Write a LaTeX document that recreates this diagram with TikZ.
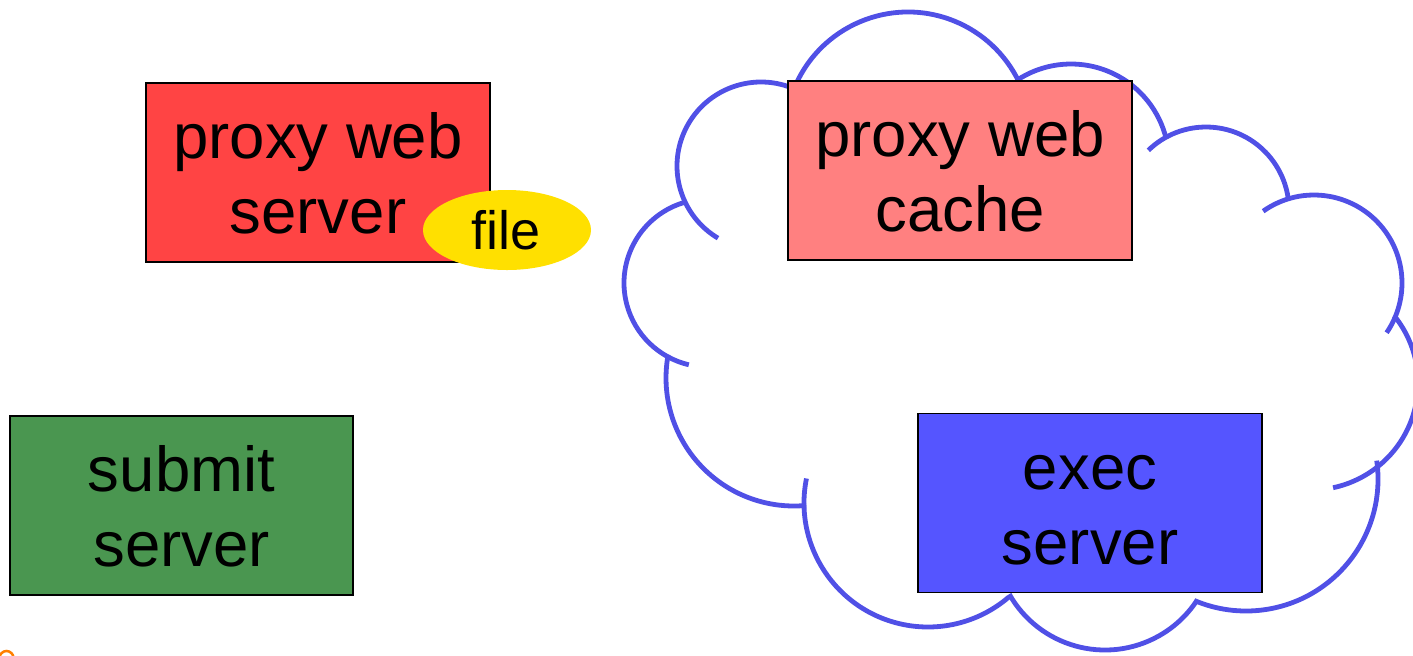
\documentclass[tikz,border=0pt]{standalone}
\usepackage{fontspec}
\setmainfont{Liberation Sans}
\usetikzlibrary{shapes.geometric}
\definecolor{cloudblue}{RGB}{80,80,230}
\definecolor{redfill}{RGB}{255,68,68}
\definecolor{pinkfill}{RGB}{255,128,128}
\definecolor{greenfill}{RGB}{74,150,80}
\definecolor{bluefill}{RGB}{85,85,255}
\definecolor{filefill}{RGB}{255,224,0}
\definecolor{markorange}{RGB}{255,128,0}
\tikzset{
  cloudline/.style={draw=cloudblue, line width=2.4pt, line cap=butt},
  srvbox/.style={draw=black, line width=0.65pt, inner sep=0pt, outer sep=0pt,
                 minimum width=172pt, minimum height=89.5pt},
  lbl/.style={font=\fontsize{31.75pt}{38pt}\selectfont, inner sep=0pt, anchor=base},
  filetag/.style={ellipse, fill=filefill, inner sep=0pt,
                  minimum width=84pt, minimum height=40pt},
}
\begin{document}
\begin{tikzpicture}[x=0.5pt,y=-0.5pt]
\useasboundingbox (0,0) rectangle (1413,655);
\clip (0,0) rectangle (1413,655);

% cloud: one arc per bump, some carrying a short inner tail
\draw[cloudline] (761,166)  ++(-65:84)    arc[start angle=-65,    end angle=-239.2, radius=84];
\draw[cloudline] (708,283)  ++(-105:84)   arc[start angle=-105,   end angle=-256.8, radius=84];
\draw[cloudline] (794,378)  ++(190.5:128) arc[start angle=190.5,  end angle=84.5,   radius=128];
\draw[cloudline] (928,503)  ++(191.4:124) arc[start angle=191.4,  end angle=49.4,   radius=124];
\draw[cloudline] (1105,540) ++(150.5:110) arc[start angle=150.5,  end angle=33,     radius=110];
\draw[cloudline] (1246,479) ++(-8:132)    arc[start angle=-8,     end angle=113,    radius=132];
\draw[cloudline] (1311,383) ++(-39:107)   arc[start angle=-39,    end angle=78.1,   radius=107];
\draw[cloudline] (1314,283) ++(-125.3:88) arc[start angle=-125.3, end angle=34.4,   radius=88];
\draw[cloudline] (1206,210) ++(-134:83)   arc[start angle=-134,   end angle=-6.7,   radius=83];
\draw[cloudline] (1071,162) ++(-123.9:98) arc[start angle=-123.9, end angle=-13.5,  radius=98];
\draw[cloudline] (908,135)  ++(-158:123)  arc[start angle=-158,   end angle=-25.6,  radius=123];

% servers
\node[srvbox, fill=redfill]   (proxysrv) at (318,172.5) {};
\node[srvbox, fill=pinkfill]  (proxycache) at (960,170.5) {};
\node[srvbox, fill=bluefill]  (execsrv) at (1090,503) {};
\node[srvbox, fill=greenfill, minimum width=171.5pt] (submitsrv) at (181.5,505.5) {};

\node[lbl] (proxysrvA) at (318,158.6) {proxy web};
\node[lbl] (proxysrvB) at (318,233.8) {server};
\node[lbl] (proxycacheA) at (960,156.6) {proxy web};
\node[lbl] (proxycacheB) at (960,231.8) {cache};
\node[lbl] (execsrvA) at (1090,489) {exec};
\node[lbl] (execsrvB) at (1090,564) {server};
\node[lbl] (submitsrvA) at (181.5,491) {submit};
\node[lbl] (submitsrvB) at (181.5,566) {server};

% file held by the proxy web server
\node[filetag] (file) at (507,230) {};
\node[font=\fontsize{27pt}{32pt}\selectfont, inner sep=0pt, anchor=base] (fileA) at (506,249) {file};

% orange mark in the lower left corner
\draw[markorange, line width=1.25pt] (6.5,658) circle[radius=7];
\end{tikzpicture}
\end{document}
